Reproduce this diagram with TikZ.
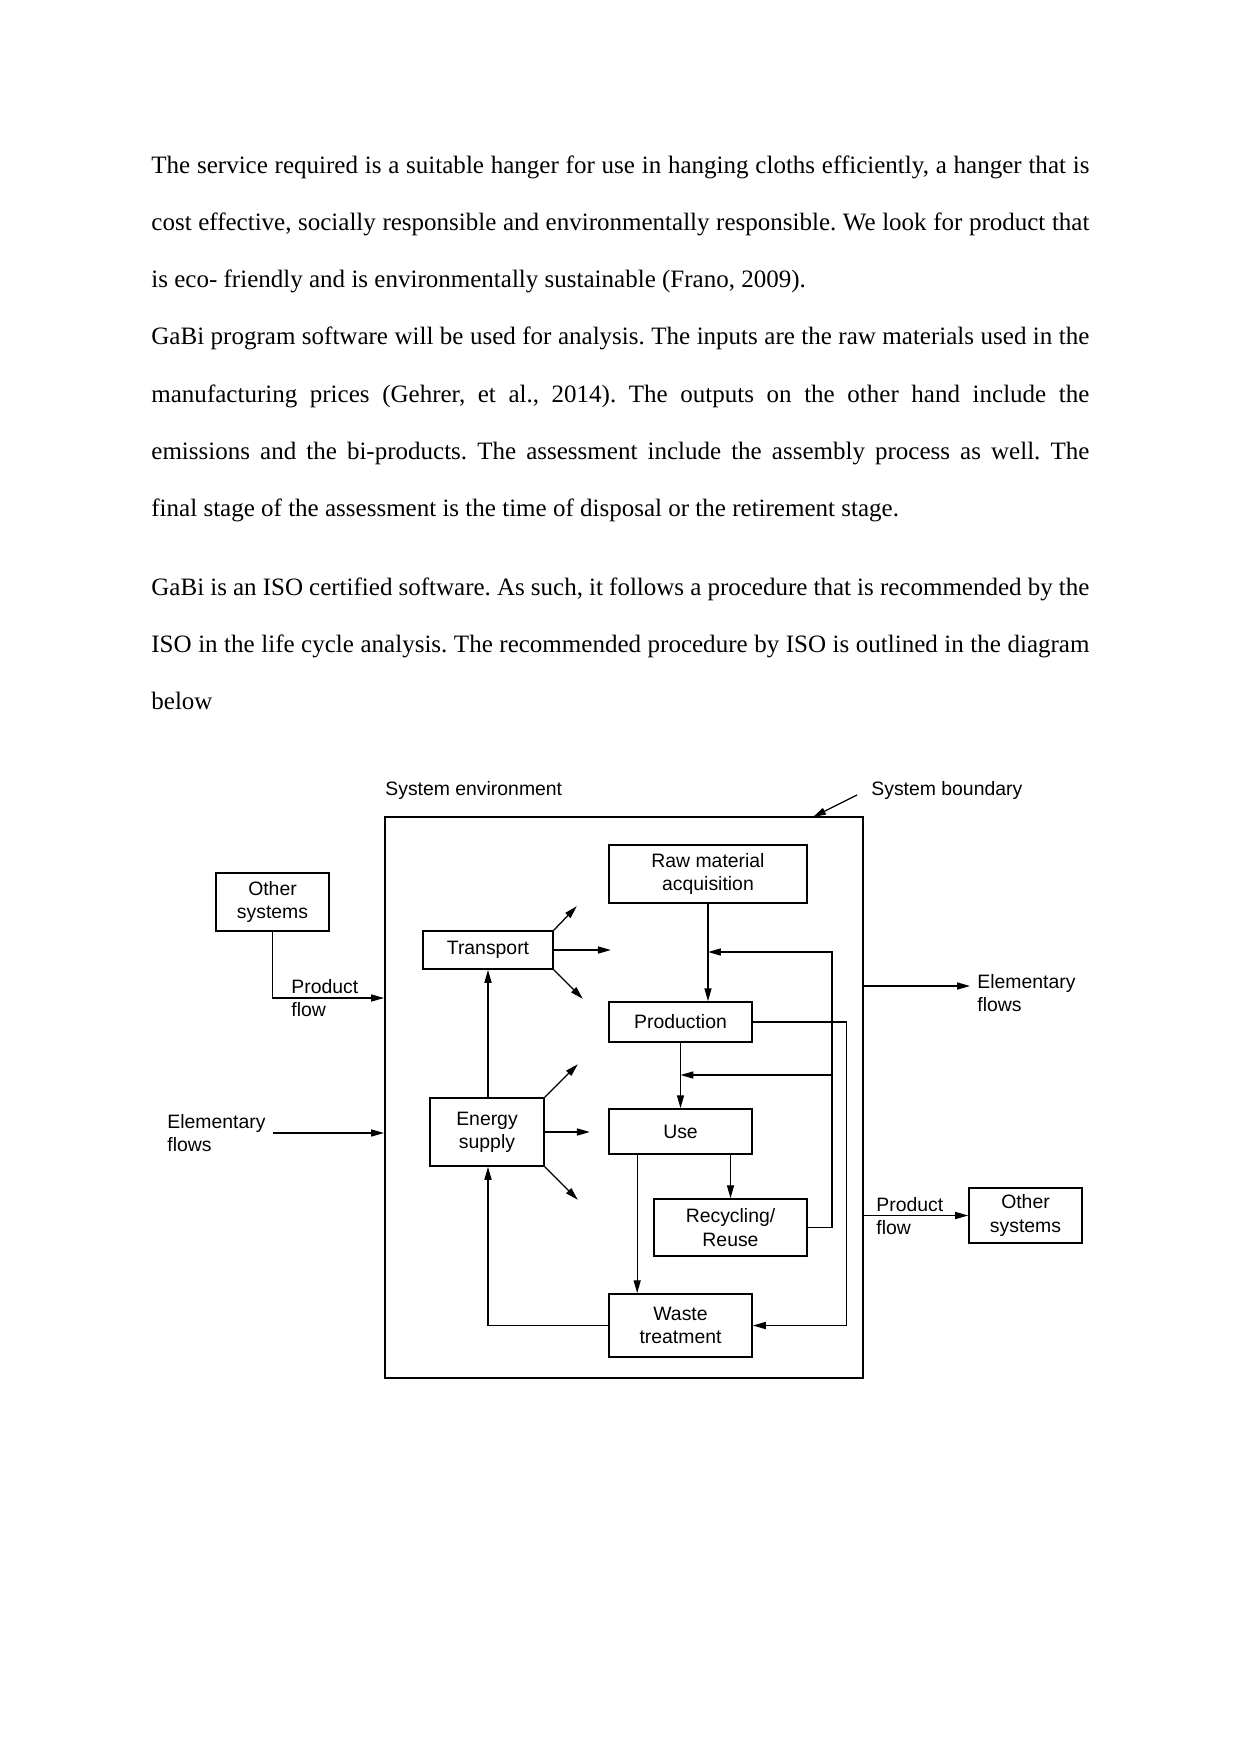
\documentclass[tikz,border=0pt]{standalone}
\usepackage{fontspec}
\setmainfont{Liberation Serif}
\newfontfamily\diafont{Liberation Sans}
\usetikzlibrary{arrows.meta,positioning}
\frenchspacing

\newlength\px
\setlength\px{0.47968pt}
\newcommand\jline[1]{\makebox[938\px][s]{#1}}

\begin{document}
\begin{tikzpicture}[x=0.47968pt, y=-0.47968pt,
    txt/.style={font=\fontsize{12}{14}\selectfont, anchor=base west, inner sep=0},
    box/.style={draw, line width=0.8pt, font=\diafont\fontsize{9.3}{11.2}\selectfont, align=center, inner sep=0},
    lbl/.style={font=\diafont\fontsize{9.3}{11.2}\selectfont, align=left, inner sep=0},
    flow/.style={-{Triangle[length=6.2pt,width=3.4pt]}, line width=0.6pt},
    plain/.style={line width=0.6pt}
  ]
  \useasboundingbox (0,0) rectangle (1241,1754);

  % text of the page
  \node[txt] (l1) at (151,173.3) {\jline{The service required is a suitable hanger for use in hanging cloths efficiently, a hanger that is}};
  \node[txt] (l2) at (151,230.5) {\jline{cost effective, socially responsible and environmentally responsible. We look for product that}};
  \node[txt] (l3) at (151,287.7) {is eco- friendly and is environmentally sustainable (Frano, 2009).};
  \node[txt] (l4) at (151,344.9) {\jline{GaBi program software will be used for analysis. The inputs are the raw materials used in the}};
  \node[txt] (l5) at (151,402.1) {\jline{manufacturing prices (Gehrer, et al., 2014). The outputs on the other hand include the}};
  \node[txt] (l6) at (151,459.3) {\jline{emissions and the bi-products. The assessment include the assembly process as well. The}};
  \node[txt] (l7) at (151,516.5) {final stage of the assessment is the time of disposal or the retirement stage.};
  \node[txt] (l8) at (151,595) {\jline{GaBi is an ISO certified software. As such, it follows a procedure that is recommended by the}};
  \node[txt] (l9) at (151,652) {\jline{ISO in the life cycle analysis. The recommended procedure by ISO is outlined in the diagram}};
  \node[txt] (l10) at (151,709) {below};

  % system boundary
  \node[draw, line width=1pt, minimum width=478\px, minimum height=561\px, inner sep=0] (sys) at (624,1097.5) {};
  \node[lbl, anchor=base west] (senv) at (385,795) {System environment};
  \node[lbl, anchor=base west] (sbnd) at (871,795) {System boundary};
  \coordinate (bndtail) at (857,795);
  \coordinate (bndtip) at (813,817);
  \draw[flow] (bndtail) -- (bndtip);

  % process boxes
  \node[box, minimum width=113\px, minimum height=58\px] (other1) at (272.5,902) {Other\\systems};
  \node[box, minimum width=198\px, minimum height=58\px] (raw) at (708,874) {Raw material\\acquisition};
  \node[box, minimum width=130\px, minimum height=38\px] (transp) at (488,950) {Transport};
  \node[box, minimum width=143\px, minimum height=40\px] (prod) at (680.5,1022) {Production};
  \node[box, minimum width=114\px, minimum height=68\px] (energy) at (487,1132) {Energy\\supply};
  \node[box, minimum width=143\px, minimum height=45\px] (use) at (680.5,1131.5) {Use};
  \node[box, minimum width=153\px, minimum height=57\px] (recyc) at (730.5,1227.5) {Recycling/\\Reuse};
  \node[box, minimum width=143\px, minimum height=63\px] (waste) at (680.5,1325.5) {Waste\\treatment};
  \node[box, minimum width=113\px, minimum height=55\px] (other2) at (1025.5,1215.5) {Other\\systems};

  % flow labels
  \node[lbl, anchor=west] (pflowL) at (291,998) {Product\\flow};
  \node[lbl, anchor=west] (elemL) at (167,1133) {Elementary\\flows};
  \node[lbl, anchor=west] (elemR) at (977,993) {Elementary\\flows};
  \node[lbl, anchor=west] (pflowR) at (876,1216) {Product\\flow};

  % flows across the boundary
  \draw[flow] (other1.south) |- (pflowL.west -| sys.west);
  \draw[flow] ([xshift=7\px]elemL.east) -- (elemL.east -| sys.west);
  \coordinate (outE) at ([xshift=-7\px,yshift=7\px]elemR.west);
  \draw[flow] (sys.east |- outE) -- (outE);
  \draw[flow] (sys.east |- other2.west) -- (other2.west);

  % transport and energy
  \draw[flow] (transp.north east) -- ++(23,-24);
  \draw[flow] (transp.east) -- ++(57,0);
  \draw[flow] (transp.south east) -- ++(29,29);
  \draw[flow] (energy.north east) -- ++(33,-33);
  \draw[flow] (energy.east) -- ++(45,0);
  \draw[flow] (energy.south east) -- ++(33,33);
  \draw[flow] (transp.south |- energy.north) -- (transp.south);
  \draw[flow] (waste.west) -| (transp.south |- energy.south);

  % life cycle chain
  \draw[flow] (raw.south) -- (raw.south |- prod.north);
  \draw[flow] (prod.south) -- (use.north);
  \draw[flow] (use.south -| recyc.north) -- (recyc.north);
  \draw[flow] ([xshift=29\px]use.south west) -- ([xshift=29\px]waste.north west);

  % feedback loops
  \coordinate (fbtop) at (708,952);
  \coordinate (fbmid) at (680.5,1075);
  \coordinate (rx) at (832,0);
  \draw[flow] (recyc.east) -| (rx |- fbtop) -- (fbtop);
  \draw[flow] (rx |- fbmid) -- (fbmid);
  \draw[flow] (prod.east) -- ++(94,0) |- (waste.east);
\end{tikzpicture}
\end{document}
